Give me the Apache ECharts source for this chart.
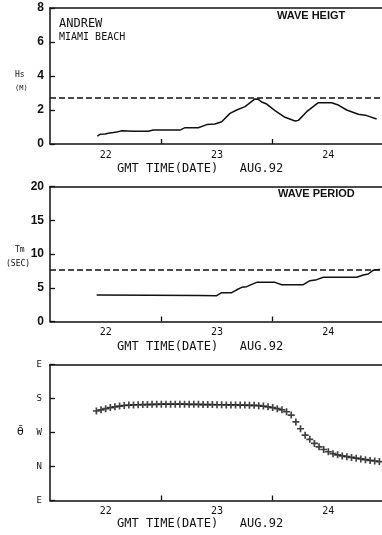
<!DOCTYPE html>
<html>
<head>
<meta charset="utf-8">
<script src="https://cdn.jsdelivr.net/npm/echarts@6/dist/echarts.min.js"></script>
<style>
  html, body { margin: 0; padding: 0; background: #fff; }
  #chart { width: 382px; height: 535px; }
</style>
</head>
<body>
<div id="chart"></div>
<script>
// time in days of Aug 1992 (GMT)
const dayLabels = [22, 23, 24];
const dayTicks = [22.5, 23.5];

// wave height Hs (m)
const hsTime = [21.925, 21.949, 21.994, 22.024, 22.069, 22.099, 22.144, 22.248, 22.383, 22.428,
  22.668, 22.713, 22.832, 22.908, 22.982, 23.042, 23.117, 23.177, 23.252, 23.341,
  23.371, 23.402, 23.446, 23.521, 23.611, 23.701, 23.731, 23.806, 23.910, 24.030,
  24.090, 24.165, 24.269, 24.345, 24.434];
const hsValue = [0.47, 0.57, 0.59, 0.63, 0.67, 0.7, 0.78, 0.75, 0.75, 0.82,
  0.82, 0.96, 0.96, 1.14, 1.18, 1.31, 1.8, 2.0, 2.2, 2.65,
  2.63, 2.47, 2.35, 1.96, 1.57, 1.35, 1.39, 1.9, 2.43, 2.43,
  2.29, 2.0, 1.75, 1.67, 1.47];
const hsRef = 2.7;

// mean wave period Tm (sec)
const tmTime = [21.919, 22.398, 22.847, 22.997, 23.042, 23.132, 23.177, 23.222, 23.267, 23.312,
  23.357, 23.521, 23.581, 23.775, 23.835, 23.896, 23.955, 24.255, 24.314, 24.359,
  24.404, 24.434, 24.464];
const tmValue = [3.93, 3.9, 3.85, 3.82, 4.27, 4.27, 4.7, 5.06, 5.16, 5.5,
  5.8, 5.8, 5.45, 5.45, 6.05, 6.2, 6.55, 6.55, 6.9, 7.04,
  7.6, 7.67, 7.7];
const tmRef = 7.7;

// mean wave direction (deg), hourly from 21 Aug 22:00
const dirStart = 21 + 22 / 24;
const dirValue = [213, 210, 207, 204, 202, 200, 198.5, 197.5, 197, 196.5,
  196, 196, 195.5, 195.5, 195, 195, 195, 195, 195, 195,
  195.5, 195.5, 195.5, 196, 196, 196, 196.5, 196.5, 197, 197,
  197, 197.5, 197.5, 198, 198, 199, 200, 202, 204, 207,
  210, 215, 224, 242, 260, 277, 288, 299, 308, 315,
  321, 326, 329, 332, 334, 336, 338, 340, 342, 344,
  345.5, 347];
const dirLabels = { 90: 'E', 180: 'S', 270: 'W', 360: 'N', 450: 'E' };

const ink = '#111';
const plotter = '"DejaVu Sans Mono", monospace';
const bold = '"Liberation Sans", Arial, sans-serif';

const pair = (xs, ys) => xs.map((x, i) => [x, ys[i]]);
const dirData = dirValue.map((v, i) => [dirStart + i / 24, v]);

// frames are cut by the right edge of the scan: no right border
const xMin = 21.5, xMax = 24.482;
const grids = [
  { left: 50, top: 8, right: 0, height: 136 },
  { left: 50, top: 186.5, right: 0, height: 135 },
  { left: 50, top: 364.5, right: 0, height: 136 }
];

const frameLine = { show: true, lineStyle: { color: ink, width: 1.5 } };
const xAxis = [0, 1, 2].map(i => ({
  type: 'value',
  gridIndex: i,
  min: xMin,
  max: xMax,
  axisLine: frameLine,
  axisTick: { show: true, inside: true, length: 5, customValues: dayTicks, lineStyle: { color: ink, width: 1.3 } },
  axisLabel: { customValues: dayLabels, margin: 6, color: ink, fontFamily: plotter, fontSize: 10 },
  splitLine: { show: false }
})).concat([0, 1, 2].map(i => ({
  type: 'value',
  gridIndex: i,
  position: 'top',
  min: xMin,
  max: xMax,
  axisLine: frameLine,
  axisTick: { show: false },
  axisLabel: { show: false },
  splitLine: { show: false }
})));

const yBase = {
  type: 'value',
  axisLine: frameLine,
  axisTick: { show: true, inside: true, length: 5, lineStyle: { color: ink, width: 1.3 } },
  splitLine: { show: false }
};
const yAxis = [
  { ...yBase, gridIndex: 0, min: 0, max: 8, interval: 2,
    axisLabel: { margin: 6, color: ink, fontFamily: bold, fontWeight: 'bold', fontSize: 12 } },
  { ...yBase, gridIndex: 1, min: 0, max: 20, interval: 5,
    axisLabel: { margin: 6, color: ink, fontFamily: bold, fontWeight: 'bold', fontSize: 12 } },
  { ...yBase, gridIndex: 2, min: 90, max: 450, interval: 90, inverse: true,
    axisLabel: { margin: 8, color: ink, fontFamily: plotter, fontSize: 9, formatter: v => dirLabels[v] } }
];

const refLine = y => ({
  silent: true,
  symbol: 'none',
  label: { show: false },
  lineStyle: { color: ink, type: [6, 3], width: 1.5 },
  data: [{ yAxis: y }]
});

const txt = (left, y, text, font, size, weight) => ({
  type: 'text', left, top: y - size / 2 - 1,
  style: { text, fill: ink, font: (weight || 'normal') + ' ' + size + 'px ' + font }
});
const xName = 'GMT TIME(DATE)   AUG.92';

const chart = echarts.init(document.getElementById('chart'));
chart.setOption({
  backgroundColor: '#fff',
  animation: false,
  grid: grids,
  xAxis,
  yAxis,
  graphic: [
    txt(59, 25, 'ANDREW', plotter, 12),
    txt(59, 38, 'MIAMI BEACH', plotter, 10),
    txt(277, 17, 'WAVE HEIGT', bold, 11, 'bold'),
    txt(278, 195, 'WAVE PERIOD', bold, 11, 'bold'),
    txt(15, 76, 'Hs', plotter, 8),
    txt(15, 89, '(M)', plotter, 7),
    txt(15, 251, 'Tm', plotter, 8),
    txt(6, 265, '(SEC)', plotter, 8),
    txt(17, 433, 'θ̄', '"DejaVu Sans"', 11),
    txt(117, 170, xName, plotter, 12),
    txt(117, 348, xName, plotter, 12),
    txt(117, 525, xName, plotter, 12)
  ],
  series: [
    {
      type: 'line', xAxisIndex: 0, yAxisIndex: 0,
      data: pair(hsTime, hsValue),
      symbol: 'none',
      lineStyle: { color: ink, width: 1.5 },
      markLine: refLine(hsRef)
    },
    {
      type: 'line', xAxisIndex: 1, yAxisIndex: 1,
      data: pair(tmTime, tmValue),
      symbol: 'none',
      lineStyle: { color: ink, width: 1.5 },
      markLine: refLine(tmRef)
    },
    {
      type: 'scatter', xAxisIndex: 2, yAxisIndex: 2,
      data: dirData,
      symbol: 'path://M3.8,0H6.2V3.8H10V6.2H6.2V10H3.8V6.2H0V3.8H3.8Z',
      symbolSize: 7,
      itemStyle: { color: ink }
    }
  ]
});
</script>
</body>
</html>
